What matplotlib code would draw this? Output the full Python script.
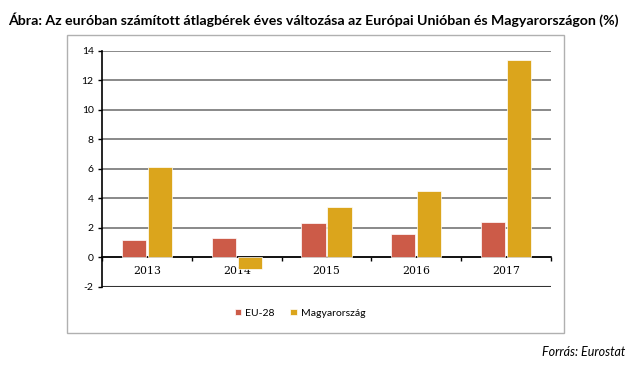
import matplotlib
matplotlib.use("Agg")
import matplotlib.pyplot as plt
from matplotlib.patches import Rectangle
import numpy as np

# Annual change of average wages in euro (%), EU-28 vs Hungary
years = ["2013", "2014", "2015", "2016", "2017"]
eu28 = [1.2, 1.3, 2.3, 1.6, 2.4]
hungary = [6.1, -0.8, 3.4, 4.5, 13.4]
series_names = ["EU-28", "Magyarország"]

title = "Ábra: Az euróban számított átlagbérek éves változása az Európai Unióban és Magyarországon (%)"
source = "Forrás: Eurostat"

c_eu = "#CC5B48"
c_hu = "#DBA51C"

fig = plt.figure(figsize=(6.44, 3.66), dpi=100)
fig.patch.set_facecolor("white")

# outer chart frame
fig.patches.append(Rectangle((67 / 644, 1 - 333 / 366), 497 / 644, 298 / 366,
                             transform=fig.transFigure, fill=False,
                             edgecolor="#b0b0b0", linewidth=1.0))

ax = fig.add_axes([102 / 644, 1 - 287 / 366, 449 / 644, (287 - 50.7) / 366])

x = np.arange(len(years))
w = 0.27
ax.bar(x - w / 2 - 0.01, eu28, w, color=c_eu, edgecolor="white", linewidth=0.5,
       label=series_names[0], zorder=3)
ax.bar(x + w / 2 + 0.01, hungary, w, color=c_hu, edgecolor="white", linewidth=0.5,
       label=series_names[1], zorder=3)

ax.set_xlim(-0.5, len(years) - 0.5)
ax.set_ylim(-2, 14)
ax.set_yticks(range(-2, 15, 2))
ax.set_yticklabels([str(v) for v in range(-2, 15, 2)], fontsize=7.5, family="Lato")
ax.yaxis.grid(True, color="#808080", linewidth=1.3, zorder=0)
ax.set_axisbelow(True)
ax.tick_params(axis="y", length=3, width=1, color="black", pad=3)

# x axis on the zero line, tick marks between categories
ax.spines["bottom"].set_position(("data", 0))
ax.spines["bottom"].set_linewidth(1.2)
ax.spines["left"].set_linewidth(1.2)
ax.spines[["top", "right"]].set_visible(False)
ax.set_xticks(np.arange(-0.5, len(years), 1.0))
ax.set_xticklabels([])
ax.set_xticks(x, minor=True)
ax.set_xticklabels(years, minor=True, fontsize=7.8, family="DejaVu Serif")
ax.tick_params(axis="x", which="major", length=3, width=1, direction="out")
ax.tick_params(axis="x", which="minor", length=0, pad=6)
ax.axhline(-2, color="#333333", linewidth=1.5, zorder=2)

fig.text(8 / 644, 1 - 20 / 366, title, fontsize=10.15, fontweight="bold",
         family="Lato", va="center", ha="left")

fig.legend(loc="center", bbox_to_anchor=(300 / 644, 1 - 313 / 366), ncol=2,
           frameon=False, prop={"family": "Lato", "size": 7.5},
           handlelength=0.6, handleheight=0.6, handletextpad=0.4, columnspacing=1.5)

fig.text(625 / 644, 1 - 352 / 366, source, fontsize=9, style="italic",
         family="Lato", ha="right", va="center")

fig.savefig("out.png", dpi=100)
